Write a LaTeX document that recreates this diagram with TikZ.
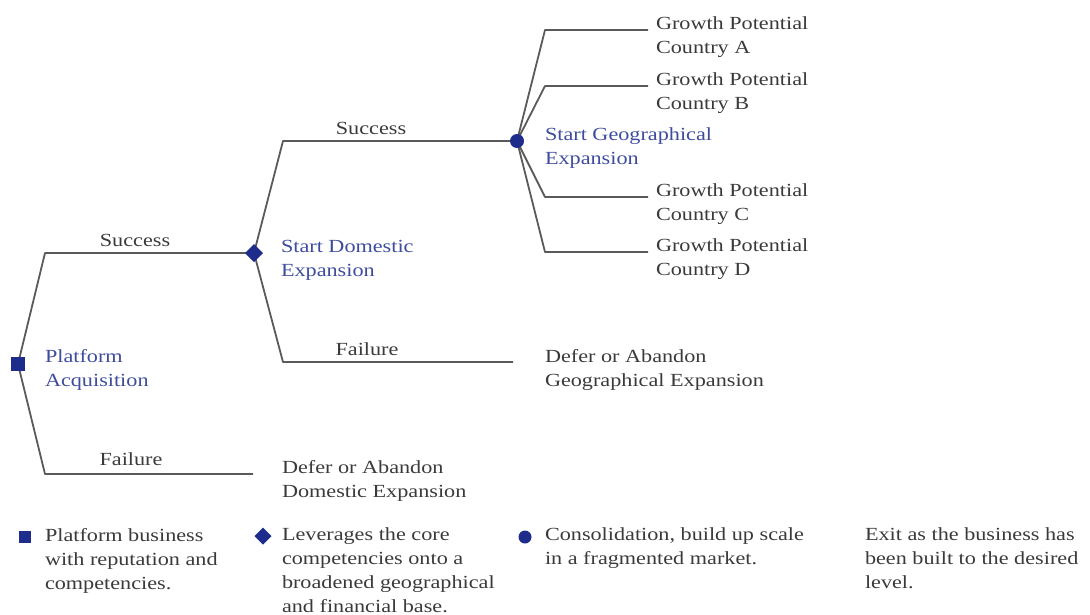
\documentclass[tikz,border=0pt]{standalone}
\usepackage{fontspec}
\setmainfont{Liberation Serif}[FakeStretch=1.2]
\usetikzlibrary{shapes.geometric}
\definecolor{branch}{HTML}{5A5A5A}
\definecolor{ink}{HTML}{3A3A3A}
\definecolor{stage}{HTML}{3E4C9E}
\definecolor{marker}{HTML}{1E2C8C}
\begin{document}
\begin{tikzpicture}[x=1pt,y=-1pt,
  every node/.style={inner sep=0pt, outer sep=0pt, font=\fontsize{18.5}{24}\selectfont, text=ink},
  txt/.style={anchor=west, align=left},
  stagetxt/.style={txt, text=stage},
  lbl/.style={anchor=center},
  edge/.style={draw=branch, line width=1.8pt, line join=round},
  sqmark/.style={rectangle, fill=marker, minimum size=14pt},
  dmmark/.style={diamond, fill=marker, minimum size=18pt},
  cimark/.style={circle, fill=marker, minimum size=14pt}
]
\useasboundingbox (0,0) rectangle (1090,614);

% decision points
\coordinate (root) at (18,364);
\coordinate (dom) at (254,253);
\coordinate (geo) at (517,141);

% stage names
\node[stagetxt] (rootname) at (45,370) {Platform\\Acquisition};
\node[stagetxt] (domname) at (281,260) {Start Domestic\\Expansion};
\node[stagetxt] (geoname) at (545,148) {Start Geographical\\Expansion};

% outcomes
\node[txt] (domfail) at (282,481) {Defer or Abandon\\Domestic Expansion};
\node[txt] (geofail) at (545,370) {Defer or Abandon\\Geographical Expansion};
\node[txt] (ca) at (656,37) {Growth Potential\\Country A};
\node[txt] (cb) at (656,93) {Growth Potential\\Country B};
\node[txt] (cc) at (656,204) {Growth Potential\\Country C};
\node[txt] (cd) at (656,259) {Growth Potential\\Country D};

% bends and free ends of the branches
\coordinate (r1) at (45,253);
\coordinate (r2) at (45,474);
\coordinate (r2e) at (253,474);
\coordinate (d1) at (283,141);
\coordinate (d2) at (283,362);
\coordinate (d2e) at (513,362);
\coordinate (g1) at (545,30);  \coordinate (g1e) at (648,30);
\coordinate (g2) at (545,86);  \coordinate (g2e) at (648,86);
\coordinate (g3) at (545,197); \coordinate (g3e) at (648,197);
\coordinate (g4) at (545,252); \coordinate (g4e) at (648,252);

% branches
\draw[edge] (root) -- (r1) -- (dom);
\draw[edge] (root) -- (r2) -- (r2e);
\draw[edge] (dom) -- (d1) -- (geo);
\draw[edge] (dom) -- (d2) -- (d2e);
\draw[edge] (geo) -- (g1) -- (g1e);
\draw[edge] (geo) -- (g2) -- (g2e);
\draw[edge] (geo) -- (g3) -- (g3e);
\draw[edge] (geo) -- (g4) -- (g4e);

% markers drawn over the branch joints
\node[sqmark] (rootmark) at (root) {};
\node[dmmark] (dommark) at (dom) {};
\node[cimark] (geomark) at (geo) {};

% branch labels
\node[lbl] (s1) at (135,240) {Success};
\node[lbl] (f1) at (131,459) {Failure};
\node[lbl] (s2) at (371,128) {Success};
\node[lbl] (f2) at (367,349) {Failure};

% key
\node[sqmark, minimum size=12pt] (k1) at (25,537) {};
\node[txt, anchor=north west] (k1t) at (45,528) {Platform business\\with reputation and\\competencies.};
\node[dmmark, minimum size=17pt] (k2) at (263,536) {};
\node[txt, anchor=north west] (k2t) at (282,528) {Leverages the core\\competencies onto a\\broadened geographical\\and financial base.};
\node[cimark, minimum size=13pt] (k3) at (525,537) {};
\node[txt, anchor=north west] (k3t) at (545,528) {Consolidation, build up scale\\in a fragmented market.};
\node[txt, anchor=north west] (k4t) at (865,528) {Exit as the business has\\been built to the desired\\level.};
\end{tikzpicture}
\end{document}
